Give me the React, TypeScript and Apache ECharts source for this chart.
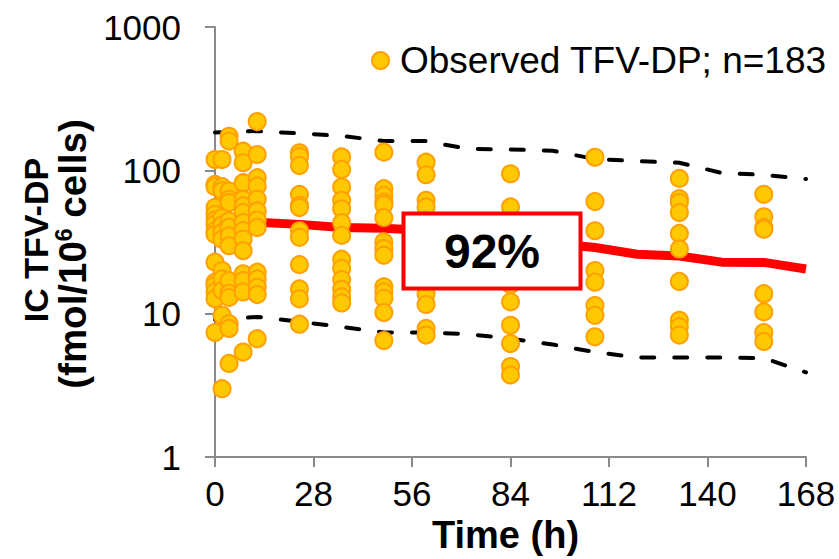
import React, { useEffect, useRef } from "react";
import * as echarts from "echarts";

const FONT = "'Liberation Sans', Arial, Helvetica, sans-serif";

// Time grid for the model prediction lines (h)
const predTimes = [0, 12, 24, 36, 48, 60, 72, 84, 96, 108, 120, 132, 144, 156, 168];
const medianPred = [45, 43.5, 42, 40, 39.5, 38, 35, 33, 31, 29, 26, 25.3, 22.9, 22.8, 20.5];
const upper95 = [184, 188, 181, 174, 160, 160, 141, 140, 137, 120, 116, 113, 96, 93, 87];
const lower5 = [9.1, 9.5, 8.8, 8.1, 7.4, 7.4, 7.2, 6.7, 6.1, 5.4, 4.95, 4.95, 4.95, 4.9, 3.9];

// Observed concentrations per sampling time
const sampleTimes = [0, 2, 4, 8, 12, 24, 36, 48, 60, 84, 108, 132, 156];
const obsT0 = [119, 79.8, 77, 55, 49.4, 45, 42.2, 37.9, 35.9, 22.9, 16.6, 15.8, 14.2, 12.7, 7.4];
const obsT2 = [119, 77, 72, 46.9, 41.5, 36.9, 33, 20, 17.5, 14.5, 9.75, 3.0];
const obsT4 = [173, 160, 71.8, 62.8, 59.6, 44.4, 40, 35, 29.8, 17, 13.9, 13, 8.5, 7.9, 4.5];
const obsT8 = [136, 113, 82, 62.8, 56.5, 50.8, 43.3, 38, 33.2, 27.5, 19, 17, 14.2, 5.4];
const obsT12 = [219, 129, 88.9, 77.7, 62.8, 52.1, 45, 40, 19.5, 17.5, 15.3, 13.6, 6.7];
const obsT24 = [132.5, 125, 108, 68, 57.1, 55, 37.9, 34.1, 22, 14.9, 12.7, 8.45];
const obsT36 = [124, 101.5, 76.5, 61.8, 54, 43.2, 35.2, 24, 20.7, 17.3, 14.8, 13.1, 11.9];
const obsT48 = [134, 74.5, 66.9, 60, 57.6, 46.8, 31.7, 28.5, 25.6, 15.4, 14.2, 12.8, 10.2, 6.5];
const obsT60 = [114, 93.2, 61.8, 55.6, 45, 37, 29, 22, 17, 13.8, 11.6, 7.9, 7.1];
const obsT84 = [94.7, 55.6, 40, 28, 20, 16, 12.1, 8.3, 6.2, 4.28, 3.74];
const obsT108 = [123.5, 60.6, 37.9, 20, 16.6, 11.4, 9.75, 6.9];
const obsT132 = [87.9, 63.5, 59.6, 50.8, 36.3, 28.3, 16.8, 9.0, 8.1, 7.1];
const obsT156 = [68.1, 47.4, 40, 38.9, 13.8, 10.3, 7.4, 6.4];

const observedColumns = [obsT0, obsT2, obsT4, obsT8, obsT12, obsT24, obsT36, obsT48, obsT60, obsT84, obsT108, obsT132, obsT156];

const xTicks = [0, 28, 56, 84, 112, 140, 168];
const seriesName = "Observed TFV-DP; n=183";
const coverageLabel = "92%";

function buildOption(): any {
  const scatterData: number[][] = [];
  observedColumns.forEach((col, i) => {
    col.forEach((v) => scatterData.push([sampleTimes[i], v]));
  });
  const pair = (arr: number[]) => predTimes.map((t, i) => [t, arr[i]]);
  const axisColor = "#8a8a8a";

  return {
    animation: false,
    backgroundColor: "#ffffff",
    textStyle: { fontFamily: FONT },
    grid: { left: 215, right: 33, top: 27, bottom: 100, containLabel: false },
    legend: {
      left: 366,
      top: 37,
      itemWidth: 17,
      itemHeight: 17,
      icon: "circle",
      data: [seriesName],
      textStyle: { fontSize: 37, color: "#000", fontFamily: FONT, padding: [0, 0, 0, 6] },
    },
    xAxis: {
      type: "value",
      min: 0,
      max: xTicks[xTicks.length - 1],
      interval: 28,
      name: "Time (h)",
      nameLocation: "middle",
      nameGap: 56,
      nameTextStyle: { fontSize: 38, fontWeight: "bold", color: "#000", fontFamily: FONT, padding: [0, 10, 0, 0] },
      axisLine: { show: true, onZero: false, lineStyle: { color: axisColor, width: 2 } },
      axisTick: { show: true, length: 10, inside: false, lineStyle: { color: axisColor, width: 2 } },
      axisLabel: { fontSize: 35, color: "#000", margin: 19, fontFamily: FONT },
      splitLine: { show: false },
    },
    yAxis: {
      type: "log",
      logBase: 10,
      min: 1,
      max: 1000,
      axisLine: { show: true, lineStyle: { color: axisColor, width: 2 } },
      axisTick: { show: true, length: 10, inside: false, lineStyle: { color: axisColor, width: 2 } },
      axisLabel: {
        fontSize: 35,
        color: "#000",
        margin: 34,
        fontFamily: FONT,
        formatter: (v: number) => String(Math.round(v)),
      },
      splitLine: { show: false },
      minorTick: { show: false },
    },
    series: [
      {
        type: "line",
        name: "median",
        data: pair(medianPred),
        showSymbol: false,
        symbol: "none",
        lineStyle: { color: "#ff0000", width: 9 },
        z: 2,
      },
      {
        type: "line",
        name: "p95",
        data: pair(upper95),
        showSymbol: false,
        symbol: "none",
        lineStyle: { color: "#000", width: 4, type: [13, 20], cap: "round" },
        z: 2,
      },
      {
        type: "line",
        name: "p5",
        data: pair(lower5),
        showSymbol: false,
        symbol: "none",
        lineStyle: { color: "#000", width: 4, type: [13, 20], cap: "round" },
        z: 2,
      },
      {
        type: "scatter",
        name: seriesName,
        data: scatterData,
        symbol: "circle",
        symbolSize: 17,
        itemStyle: { color: "#FFC800", borderColor: "#FFA000", borderWidth: 2, opacity: 1 },
        z: 3,
      },
    ],
    graphic: [
      {
        type: "rect",
        z: 100,
        shape: { x: 403.5, y: 213.5, width: 177, height: 75 },
        style: { fill: "#ffffff", stroke: "#ff0000", lineWidth: 4 },
      },
      {
        type: "text",
        z: 101,
        x: 492,
        y: 251,
        style: {
          text: coverageLabel,
          fontSize: 48,
          fontWeight: "bold",
          fontFamily: FONT,
          fill: "#000",
          align: "center",
          verticalAlign: "middle",
          textAlign: "center",
          textVerticalAlign: "middle",
        },
      },
      {
        type: "text",
        z: 101,
        x: 36,
        y: 240,
        rotation: Math.PI / 2,
        style: {
          text: "IC TFV-DP",
          fontSize: 34,
          fontWeight: "bold",
          fontFamily: FONT,
          fill: "#000",
          align: "center",
          verticalAlign: "middle",
          textAlign: "center",
          textVerticalAlign: "middle",
        },
      },
      {
        type: "text",
        z: 101,
        x: 72,
        y: 254,
        rotation: Math.PI / 2,
        style: {
          text: "{b|(fmol/10}{s|6}{b| cells)}",
          align: "center",
          verticalAlign: "middle",
          textAlign: "center",
          textVerticalAlign: "middle",
          rich: {
            b: { fontSize: 38.5, fontWeight: "bold", fontFamily: FONT, fill: "#000", color: "#000" },
            s: { fontSize: 23, fontWeight: "bold", fontFamily: FONT, fill: "#000", color: "#000", verticalAlign: "top", padding: [0, 0, 15, 0] },
          },
        },
      },
    ],
  };
}

export default function App() {
  const ref = useRef<HTMLDivElement>(null);
  useEffect(() => {
    if (!ref.current) return;
    const chart = echarts.init(ref.current, null, { renderer: "svg" });
    chart.setOption(buildOption());
    return () => chart.dispose();
  }, []);
  return (
    <div
      ref={ref}
      style={{ position: "fixed", left: 0, top: 0, width: 839, height: 559, background: "#fff" }}
    />
  );
}
